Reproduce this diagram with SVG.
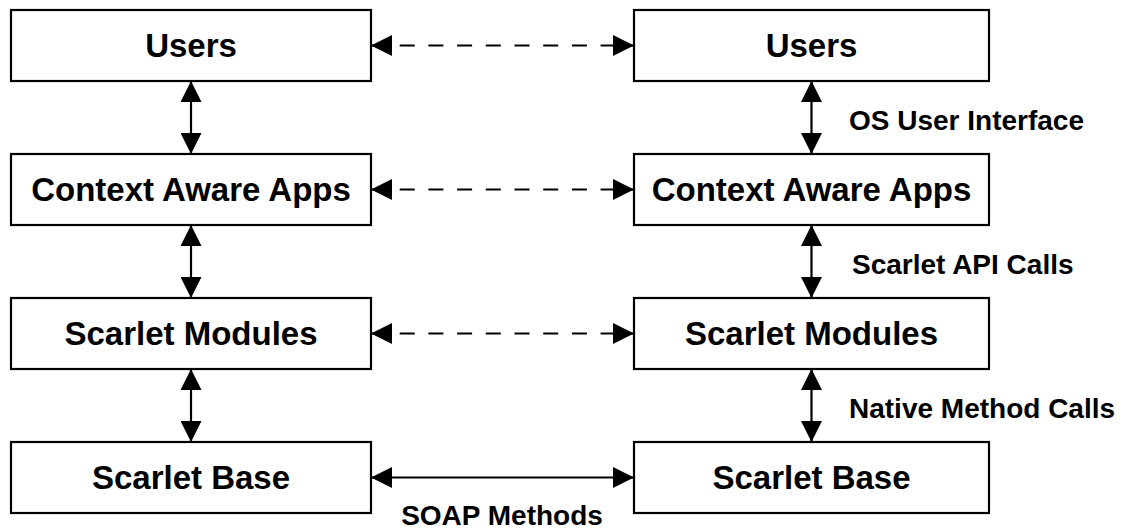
<svg xmlns="http://www.w3.org/2000/svg" width="1131" height="529" viewBox="0 0 1131 529">
<style>
.box{fill:#fff;stroke:#000;stroke-width:2.2}
.bt{font-family:"Liberation Sans",Arial,sans-serif;font-weight:bold;font-size:33px;text-anchor:middle;fill:#000}
.lb{font-family:"Liberation Sans",Arial,sans-serif;font-weight:bold;font-size:28px;fill:#000}
.ln{stroke:#000;stroke-width:2.2;fill:none;marker-start:url(#ah);marker-end:url(#ah)}
.dash{stroke-dasharray:15 13.7}
</style>
<defs>
<marker id="ah" markerUnits="userSpaceOnUse" markerWidth="21" markerHeight="21" refX="21" refY="10.5" orient="auto-start-reverse" viewBox="0 0 21 21">
<path d="M0,0 L21,10.5 L0,21 z" fill="#000"/>
</marker>
</defs>
<g id="connectors">
<line class="ln dash" x1="371" y1="45.5" x2="634" y2="45.5"/>
<line class="ln dash" x1="371" y1="189.5" x2="634" y2="189.5"/>
<line class="ln dash" x1="371" y1="333.5" x2="634" y2="333.5"/>
<line class="ln" x1="371" y1="477.5" x2="634" y2="477.5"/>
<line class="ln" x1="191" y1="81" x2="191" y2="154"/>
<line class="ln" x1="191" y1="225" x2="191" y2="298"/>
<line class="ln" x1="191" y1="369" x2="191" y2="442"/>
<line class="ln" x1="811.5" y1="81" x2="811.5" y2="154"/>
<line class="ln" x1="811.5" y1="225" x2="811.5" y2="298"/>
<line class="ln" x1="811.5" y1="369" x2="811.5" y2="442"/>
<text class="lb" x="849" y="130">OS User Interface</text>
<text class="lb" x="852" y="274">Scarlet API Calls</text>
<text class="lb" x="849" y="418">Native Method Calls</text>
<text class="lb" x="502" y="525" text-anchor="middle">SOAP Methods</text>
</g>
<g id="left-users"><rect class="box" x="11" y="10" width="360" height="71"/><text class="bt" x="191" y="57">Users</text></g>
<g id="left-apps"><rect class="box" x="11" y="154" width="360" height="71"/><text class="bt" x="191" y="201">Context Aware Apps</text></g>
<g id="left-modules"><rect class="box" x="11" y="298" width="360" height="71"/><text class="bt" x="191" y="345">Scarlet Modules</text></g>
<g id="left-base"><rect class="box" x="11" y="442" width="360" height="71"/><text class="bt" x="191" y="489">Scarlet Base</text></g>
<g id="right-users"><rect class="box" x="634" y="10" width="355" height="71"/><text class="bt" x="811.5" y="57">Users</text></g>
<g id="right-apps"><rect class="box" x="634" y="154" width="355" height="71"/><text class="bt" x="811.5" y="201">Context Aware Apps</text></g>
<g id="right-modules"><rect class="box" x="634" y="298" width="355" height="71"/><text class="bt" x="811.5" y="345">Scarlet Modules</text></g>
<g id="right-base"><rect class="box" x="634" y="442" width="355" height="71"/><text class="bt" x="811.5" y="489">Scarlet Base</text></g>
</svg>
